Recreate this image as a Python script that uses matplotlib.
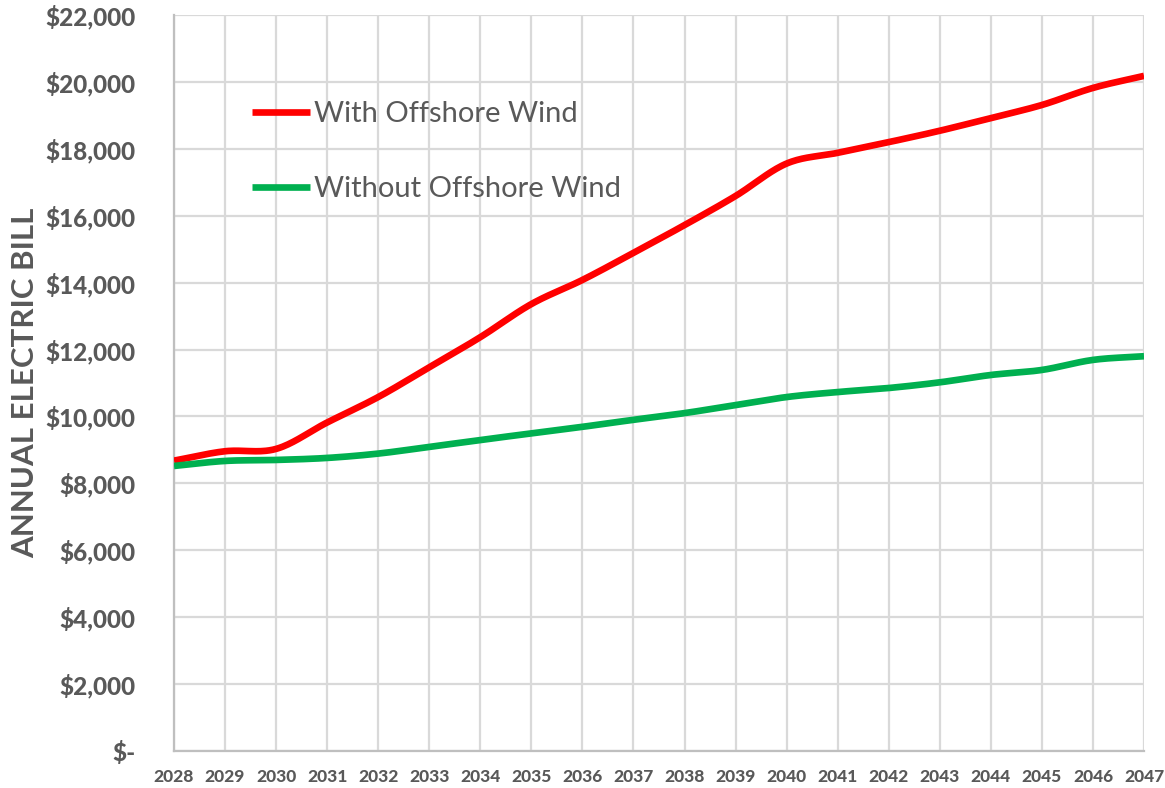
import numpy as np
import matplotlib.pyplot as plt
from matplotlib.ticker import FuncFormatter

years = list(range(2028, 2048))
with_wind = [8680, 8960, 9030, 9820, 10580, 11470, 12370, 13360, 14080, 14890,
             15720, 16590, 17560, 17880, 18200, 18540, 18920, 19310, 19820, 20180]
without_wind = [8520, 8670, 8700, 8760, 8890, 9090, 9295, 9495, 9690, 9900,
                10100, 10340, 10580, 10730, 10850, 11020, 11240, 11390, 11690, 11800]

grey = '#595959'
grid_col = '#d9d9d9'


def smooth(x, y, n=30):
    # catmull-rom style curve, like excel's "smoothed line"
    x = np.asarray(x, float)
    y = np.asarray(y, float)
    px = np.concatenate([[2 * x[0] - x[1]], x, [2 * x[-1] - x[-2]]])
    py = np.concatenate([[2 * y[0] - y[1]], y, [2 * y[-1] - y[-2]]])
    xs, ys = [], []
    t = np.linspace(0, 1, n, endpoint=False)
    for i in range(1, len(px) - 2):
        for arr, out in ((px, xs), (py, ys)):
            p0, p1, p2, p3 = arr[i - 1], arr[i], arr[i + 1], arr[i + 2]
            out.extend(0.5 * ((2 * p1) + (-p0 + p2) * t
                              + (2 * p0 - 5 * p1 + 4 * p2 - p3) * t ** 2
                              + (-p0 + 3 * p1 - 3 * p2 + p3) * t ** 3))
    xs.append(x[-1])
    ys.append(y[-1])
    return np.array(xs), np.array(ys)


plt.rcParams['font.family'] = ['Lato', 'DejaVu Sans']

fig = plt.figure(figsize=(11.65, 7.88), dpi=100)
ax = fig.add_axes([174 / 1165, 1 - 751 / 788, 970 / 1165, 736 / 788])

sx, sy = smooth(years, with_wind)
ax.plot(sx, sy, color='#FF0000', lw=4.8, solid_capstyle='butt', label='With Offshore Wind', zorder=3)
sx, sy = smooth(years, without_wind)
ax.plot(sx, sy, color='#00B050', lw=4.8, solid_capstyle='butt', label='Without Offshore Wind', zorder=3)

ax.set_xlim(years[0], years[-1])
ax.set_ylim(0, 22000)
ax.set_xticks(years)
ax.set_yticks(range(0, 22001, 2000))
ax.yaxis.set_major_formatter(FuncFormatter(lambda v, p: '$-' if v == 0 else '${:,.0f}'.format(v)))

ax.grid(True, color=grid_col, lw=1.6)
ax.set_axisbelow(True)
for s in ['top', 'right']:
    ax.spines[s].set_visible(False)
for s in ['left', 'bottom']:
    ax.spines[s].set_color('#bfbfbf')
    ax.spines[s].set_linewidth(1.6)

ax.tick_params(axis='both', length=0)
ax.tick_params(axis='x', pad=13, labelsize=12.5, labelcolor=grey)
ax.tick_params(axis='y', pad=28, labelsize=17.5, labelcolor=grey)
for lab in ax.get_xticklabels() + ax.get_yticklabels():
    lab.set_fontweight('black')

ax.set_ylabel('ANNUAL ELECTRIC BILL', fontsize=22.5, fontweight='bold', color=grey, labelpad=4)

leg = ax.legend(loc='upper left', bbox_to_anchor=(0.053, 0.919), frameon=False,
                fontsize=21, handlelength=2.0, handletextpad=0.15, labelspacing=1.7)
for t in leg.get_texts():
    t.set_color(grey)

fig.savefig('out.png', dpi=100)
